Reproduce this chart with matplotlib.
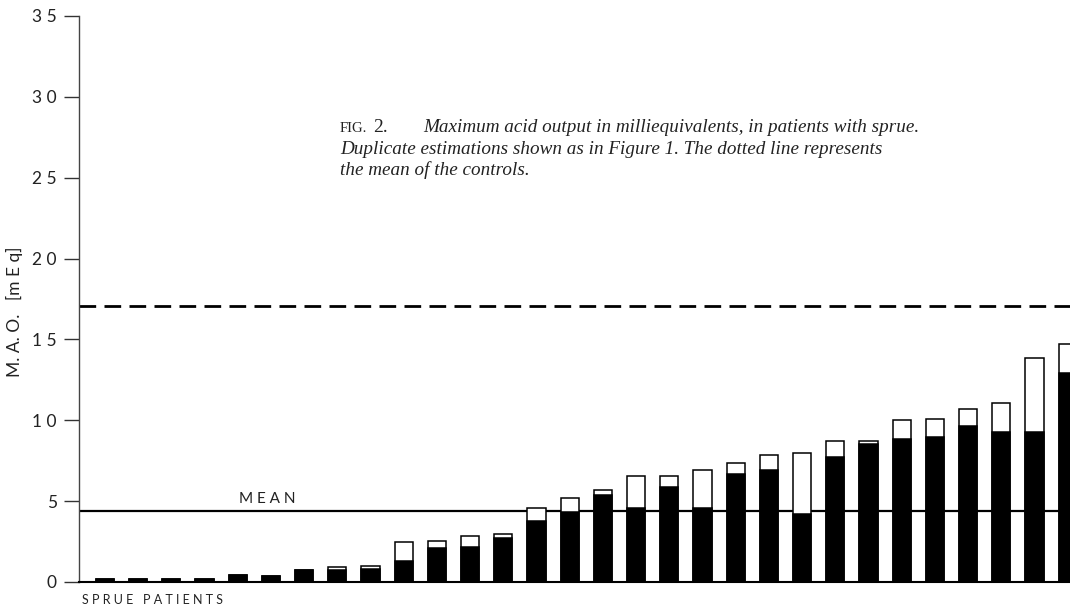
import matplotlib
matplotlib.use('Agg')
from matplotlib import pyplot as plt
import numpy as np

# duplicate estimations per sprue patient (mEq): lower value (black) and higher value (white top)
patients = list(range(1, 31))
mao_low = [0.2, 0.2, 0.2, 0.2, 0.45, 0.4, 0.75, 0.75, 0.8, 1.3,
           2.1, 2.15, 2.75, 3.8, 4.35, 5.4, 4.6, 5.9, 4.6, 6.7,
           6.9, 4.2, 7.75, 8.55, 8.85, 8.95, 9.65, 9.25, 9.25, 12.95]
mao_high = [0.2, 0.2, 0.2, 0.2, 0.45, 0.4, 0.75, 0.95, 1.0, 2.5,
            2.55, 2.85, 2.95, 4.55, 5.2, 5.7, 6.55, 6.55, 6.9, 7.35,
            7.85, 7.95, 8.7, 8.75, 10.0, 10.1, 10.7, 11.05, 13.85, 14.7]
sprue_mean = 4.4
control_mean = 17.05
y_ticks = [0, 5, 10, 15, 20, 25, 30, 35]

plt.rcParams['font.family'] = ['Lato', 'DejaVu Sans']

fig = plt.figure(figsize=(10.7, 6.08), dpi=100)
ax = fig.add_axes([79 / 1070, 26 / 608, 1 - 79 / 1070, 566 / 608])

x = np.arange(len(patients))
ax.bar(x, mao_high, width=0.55, color='white', edgecolor='black', linewidth=1.1, zorder=2)
ax.bar(x, mao_low, width=0.55, color='black', edgecolor='black', linewidth=1.1, zorder=3)

ax.axhline(sprue_mean, color='black', linewidth=1.6, zorder=1)
ax.axhline(control_mean, color='black', linewidth=2.0, linestyle=(0, (6, 3)), zorder=1)

ax.set_xlim(-0.78, 29.07)
ax.set_ylim(0, 35)
ax.set_yticks(y_ticks)
ax.set_yticklabels([' '.join(str(t)) for t in y_ticks], fontsize=12.5, color='#222222')
ax.set_xticks([])
ax.tick_params(axis='y', length=11, width=1, pad=5, color='#333333')
ax.spines['top'].set_visible(False)
ax.spines['right'].set_visible(False)
ax.spines['left'].set_linewidth(1.0)
ax.spines['left'].set_color('#444444')
ax.spines['bottom'].set_linewidth(1.5)

ax.set_ylabel('M. A. O.   [m E q]', fontsize=12.5, color='#222222')
ax.yaxis.set_label_coords(-0.057, 0.477)

ax.text(4.9, sprue_mean + 0.3, 'M E A N', ha='center', va='bottom', fontsize=11, color='#222222')
fig.text(82 / 1070, 1 - 600 / 608, 'S P R U E   P A T I E N T S', ha='left', va='center',
         fontsize=9, color='#222222')

cap_kw = dict(fontsize=13.8, family='Liberation Serif', style='italic', color='#222222', va='baseline')
fig.text(340 / 1070, 1 - 132 / 608, 'FIG.', fontsize=10.5, family='Liberation Serif',
         color='#222222', va='baseline')
fig.text(373 / 1070, 1 - 132 / 608, '2.', fontsize=14, family='Liberation Serif',
         color='#222222', va='baseline')
fig.text(423 / 1070, 1 - 132 / 608, 'Maximum acid output in milliequivalents, in patients with sprue.', **cap_kw)
fig.text(340 / 1070, 1 - 154 / 608, 'Duplicate estimations shown as in Figure 1. The dotted line represents', **cap_kw)
fig.text(340 / 1070, 1 - 175 / 608, 'the mean of the controls.', **cap_kw)

fig.savefig('out.png', dpi=100)
